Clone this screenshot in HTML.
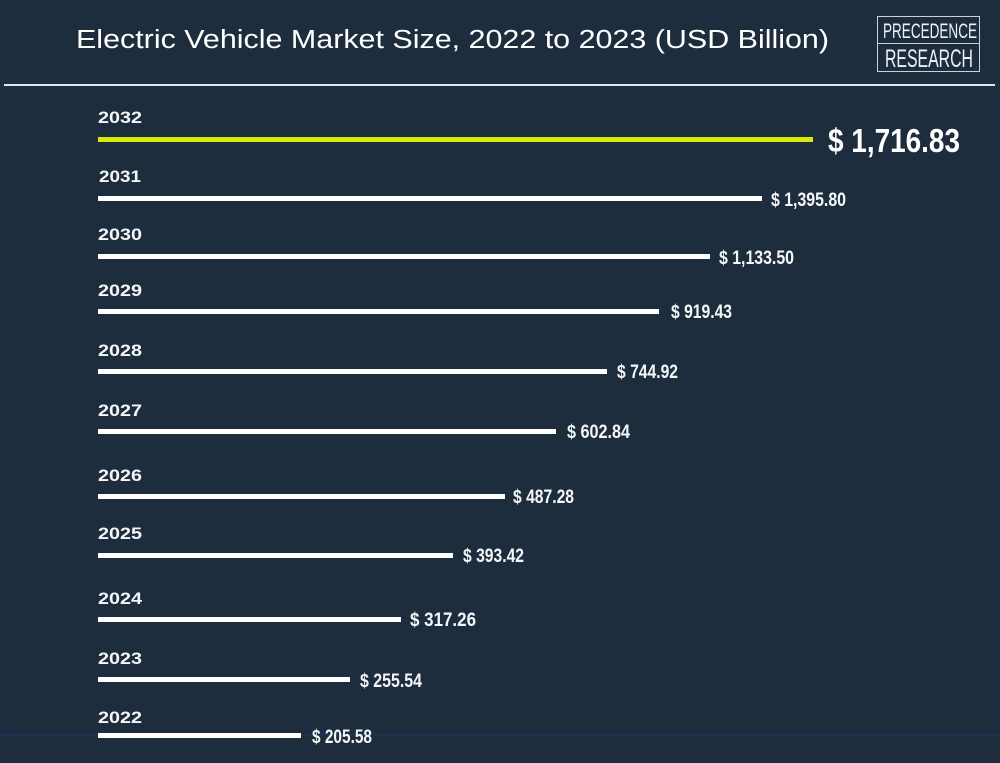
<!DOCTYPE html>
<html>
<head>
<meta charset="utf-8">
<style>
  html,body{margin:0;padding:0;background:#1e2d3d;}
  body{width:1000px;height:763px;overflow:hidden;}
  svg{display:block;}
  .yr{font-family:"Liberation Sans",sans-serif;font-weight:bold;font-size:17px;fill:#f4f6f8;}
  .val{font-family:"Liberation Sans Narrow","Liberation Sans",sans-serif;font-weight:bold;font-size:19px;fill:#f4f6f8;}
</style>
</head>
<body>
<svg width="1000" height="763" viewBox="0 0 1000 763" xmlns="http://www.w3.org/2000/svg">
  <rect x="0" y="0" width="1000" height="763" fill="#1e2d3d"/>
  <!-- subtle frame -->
  <line x1="3.5" y1="86" x2="3.5" y2="735" stroke="#1b3049" stroke-width="1"/>
  <line x1="995.5" y1="86" x2="995.5" y2="735" stroke="#1b3049" stroke-width="1"/>
  <line x1="0" y1="735" x2="1000" y2="735" stroke="#1b3352" stroke-width="2"/>

  <!-- title -->
  <text x="76" y="48" font-family="Liberation Sans, sans-serif" font-size="25.5" fill="#ffffff" textLength="753" lengthAdjust="spacingAndGlyphs">Electric Vehicle Market Size, 2022 to 2023 (USD Billion)</text>

  <!-- logo -->
  <rect x="877.5" y="16.5" width="102" height="55" fill="none" stroke="#c9d1da" stroke-width="1"/>
  <line x1="877.5" y1="43.5" x2="979.5" y2="43.5" stroke="#c9d1da" stroke-width="1"/>
  <text x="883" y="38" font-family="Liberation Sans Narrow, Liberation Sans, sans-serif" font-size="21" fill="#eef2f6" textLength="94" lengthAdjust="spacingAndGlyphs">PRECEDENCE</text>
  <text x="885" y="67" font-family="Liberation Sans Narrow, Liberation Sans, sans-serif" font-size="25" fill="#eef2f6" textLength="88" lengthAdjust="spacingAndGlyphs">RESEARCH</text>

  <!-- separator -->
  <rect x="4" y="84" width="991" height="2" fill="#dfe6ee"/>

  <!-- 2032 -->
  <text class="yr" x="98" y="123" textLength="44" lengthAdjust="spacingAndGlyphs">2032</text>
  <rect x="98" y="137" width="715" height="5" fill="#d6ea0a"/>
  <text x="828" y="152" font-family="Liberation Sans Narrow, Liberation Sans, sans-serif" font-weight="bold" font-size="33" fill="#ffffff" textLength="132" lengthAdjust="spacingAndGlyphs">$ 1,716.83</text>

  <!-- 2031 -->
  <text class="yr" x="99" y="182" textLength="42" lengthAdjust="spacingAndGlyphs">2031</text>
  <rect x="98" y="196" width="664" height="5" fill="#ffffff"/>
  <text class="val" x="771" y="206" textLength="75" lengthAdjust="spacingAndGlyphs">$ 1,395.80</text>

  <!-- 2030 -->
  <text class="yr" x="98" y="240" textLength="44" lengthAdjust="spacingAndGlyphs">2030</text>
  <rect x="98" y="254" width="612" height="5" fill="#ffffff"/>
  <text class="val" x="719" y="264" textLength="75" lengthAdjust="spacingAndGlyphs">$ 1,133.50</text>

  <!-- 2029 -->
  <text class="yr" x="98" y="296" textLength="44" lengthAdjust="spacingAndGlyphs">2029</text>
  <rect x="98" y="309" width="561" height="5" fill="#ffffff"/>
  <text class="val" x="671" y="318" textLength="61" lengthAdjust="spacingAndGlyphs">$ 919.43</text>

  <!-- 2028 -->
  <text class="yr" x="98" y="356" textLength="44" lengthAdjust="spacingAndGlyphs">2028</text>
  <rect x="98" y="369" width="509" height="5" fill="#ffffff"/>
  <text class="val" x="617" y="378" textLength="61" lengthAdjust="spacingAndGlyphs">$ 744.92</text>

  <!-- 2027 -->
  <text class="yr" x="98" y="416" textLength="44" lengthAdjust="spacingAndGlyphs">2027</text>
  <rect x="98" y="429" width="458" height="5" fill="#ffffff"/>
  <text class="val" x="567" y="438" textLength="63" lengthAdjust="spacingAndGlyphs">$ 602.84</text>

  <!-- 2026 -->
  <text class="yr" x="98" y="481" textLength="44" lengthAdjust="spacingAndGlyphs">2026</text>
  <rect x="98" y="494" width="407" height="5" fill="#ffffff"/>
  <text class="val" x="513" y="503" textLength="61" lengthAdjust="spacingAndGlyphs">$ 487.28</text>

  <!-- 2025 -->
  <text class="yr" x="98" y="539" textLength="44" lengthAdjust="spacingAndGlyphs">2025</text>
  <rect x="98" y="553" width="355" height="5" fill="#ffffff"/>
  <text class="val" x="463" y="562" textLength="61" lengthAdjust="spacingAndGlyphs">$ 393.42</text>

  <!-- 2024 -->
  <text class="yr" x="98" y="604" textLength="44" lengthAdjust="spacingAndGlyphs">2024</text>
  <rect x="98" y="617" width="303" height="5" fill="#ffffff"/>
  <text class="val" x="410" y="626" textLength="66" lengthAdjust="spacingAndGlyphs">$ 317.26</text>

  <!-- 2023 -->
  <text class="yr" x="98" y="664" textLength="44" lengthAdjust="spacingAndGlyphs">2023</text>
  <rect x="98" y="677" width="252" height="5" fill="#ffffff"/>
  <text class="val" x="360" y="687" textLength="62" lengthAdjust="spacingAndGlyphs">$ 255.54</text>

  <!-- 2022 -->
  <text class="yr" x="98" y="723" textLength="44" lengthAdjust="spacingAndGlyphs">2022</text>
  <rect x="98" y="733" width="203" height="5" fill="#ffffff"/>
  <text class="val" x="312" y="743" textLength="60" lengthAdjust="spacingAndGlyphs">$ 205.58</text>
</svg>
</body>
</html>
